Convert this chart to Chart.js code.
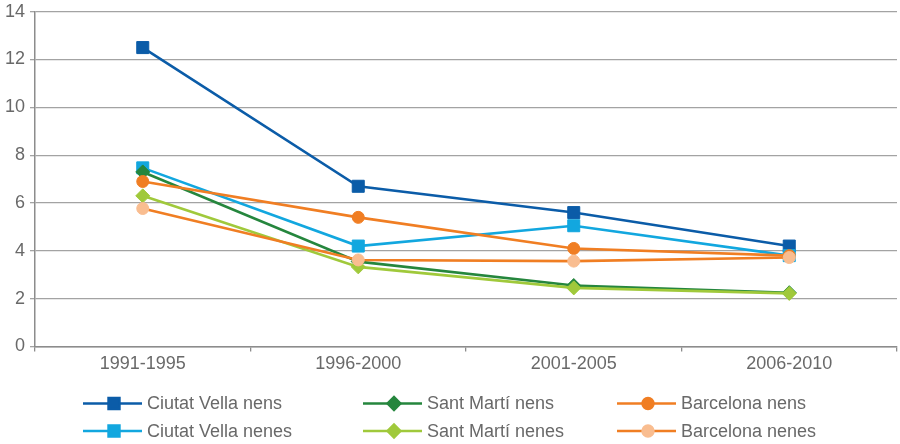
<!DOCTYPE html>
<html>
<head>
<meta charset="utf-8">
<script src="https://cdn.jsdelivr.net/npm/chart.js@4"></script>
<style>
  html, body { margin: 0; padding: 0; background: #fff; }
  #wrap { width: 900px; height: 444px; }
</style>
</head>
<body>
<div id="wrap"><canvas id="chart" width="900" height="444"></canvas></div>
<script>
// values
var periods = ["1991-1995", "1996-2000", "2001-2005", "2006-2010"];
var ciutatVellaNens = [12.5, 6.7, 5.6, 4.2];
var ciutatVellaNenes = [7.47, 4.2, 5.05, 3.8];
var santMartiNens = [7.3, 3.55, 2.55, 2.25];
var santMartiNenes = [6.3, 3.33, 2.45, 2.22];
var barcelonaNens = [6.9, 5.4, 4.1, 3.8];
var barcelonaNenes = [5.77, 3.62, 3.57, 3.72];
var seriesNames = ["Ciutat Vella nens", "Ciutat Vella nenes", "Sant Martí nens", "Sant Martí nenes", "Barcelona nens", "Barcelona nenes"];

var textColor = '#696969';
var fontFamily = "'Liberation Sans', Arial, sans-serif";

function makeSet(label, data, lineColor, pointColor, style, radius, idx) {
  return {
    label: label,
    data: data,
    borderColor: lineColor,
    backgroundColor: pointColor,
    pointBackgroundColor: pointColor,
    pointBorderColor: pointColor,
    pointBorderWidth: 1,
    pointStyle: style,
    pointRadius: radius,
    pointHoverRadius: radius,
    borderWidth: 2.6,
    tension: 0,
    fill: false,
    clip: false,
    order: 6 - idx // later series drawn on top
  };
}

var datasets = [
  makeSet(seriesNames[0], ciutatVellaNens, '#0b5ca8', '#0b5ca8', 'rect', 8.5, 0),
  makeSet(seriesNames[1], ciutatVellaNenes, '#12a7df', '#12a7df', 'rect', 8.5, 1),
  makeSet(seriesNames[2], santMartiNens, '#25863d', '#25863d', 'rectRot', 7, 2),
  makeSet(seriesNames[3], santMartiNenes, '#a0c93b', '#a0c93b', 'rectRot', 7, 3),
  makeSet(seriesNames[4], barcelonaNens, '#f07e23', '#f07e23', 'circle', 6, 4),
  makeSet(seriesNames[5], barcelonaNenes, '#f07e23', '#f9bd90', 'circle', 6, 5)
];

// legend in a 3x2 grid, like the original
var legendGrid = [[0, 0], [1, 0], [0, 1], [1, 1], [0, 2], [1, 2]]; // [row, col] per dataset
var legendCols = [83, 363, 617];
var legendRows = [403.5, 431];

var gridLegend = {
  id: 'gridLegend',
  afterDraw: function (chart) {
    var ctx = chart.ctx;
    ctx.save();
    chart.data.datasets.forEach(function (ds, i) {
      var x0 = legendCols[legendGrid[i][1]];
      var y = legendRows[legendGrid[i][0]];
      ctx.strokeStyle = ds.borderColor;
      ctx.lineWidth = 2.6;
      ctx.beginPath();
      ctx.moveTo(x0, y);
      ctx.lineTo(x0 + 59, y);
      ctx.stroke();
      ctx.fillStyle = ds.pointBackgroundColor;
      ctx.strokeStyle = ds.pointBorderColor;
      Chart.helpers.drawPoint(ctx, {
        pointStyle: ds.pointStyle,
        radius: ds.pointRadius * 0.9,
        rotation: 0,
        borderWidth: 1
      }, x0 + 31, y);
      ctx.fillStyle = textColor;
      ctx.font = "18px " + fontFamily;
      ctx.textBaseline = 'middle';
      ctx.textAlign = 'left';
      ctx.fillText(ds.label, x0 + 64, y + 1);
    });
    ctx.restore();
  }
};

var options = {
  responsive: false,
  animation: false,
  layout: { autoPadding: false, padding: { top: 11.7, right: 3, left: 0, bottom: 67.5 } },
  plugins: {
    legend: { display: false },
    tooltip: { enabled: false }
  },
  scales: {
    x: {
      type: 'category',
      offset: true,
      grid: { offset: true, drawOnChartArea: false, drawTicks: true, tickLength: 5, color: '#8c8c8c', lineWidth: 1.3 },
      border: { color: '#8c8c8c', width: 1.5 },
      ticks: { color: textColor, font: { size: 18, family: fontFamily }, padding: 2, maxRotation: 0 },
      afterFit: function (s) { s.height = 30; s.paddingLeft = 0; s.paddingRight = 0; }
    },
    y: {
      min: 0,
      max: 14,
      ticks: { stepSize: 2, color: textColor, font: { size: 18, family: fontFamily }, padding: 5 },
      grid: { color: '#a3a3a3', lineWidth: 1.3, tickLength: 5 },
      border: { color: '#8c8c8c', width: 1.5 },
      afterFit: function (s) { s.width = 35; s.paddingTop = 0; s.paddingBottom = 0; }
    }
  }
};

new Chart(document.getElementById('chart').getContext('2d'), {
  type: 'line',
  data: { labels: periods, datasets: datasets },
  options: options,
  plugins: [gridLegend]
});
</script>
</body>
</html>
